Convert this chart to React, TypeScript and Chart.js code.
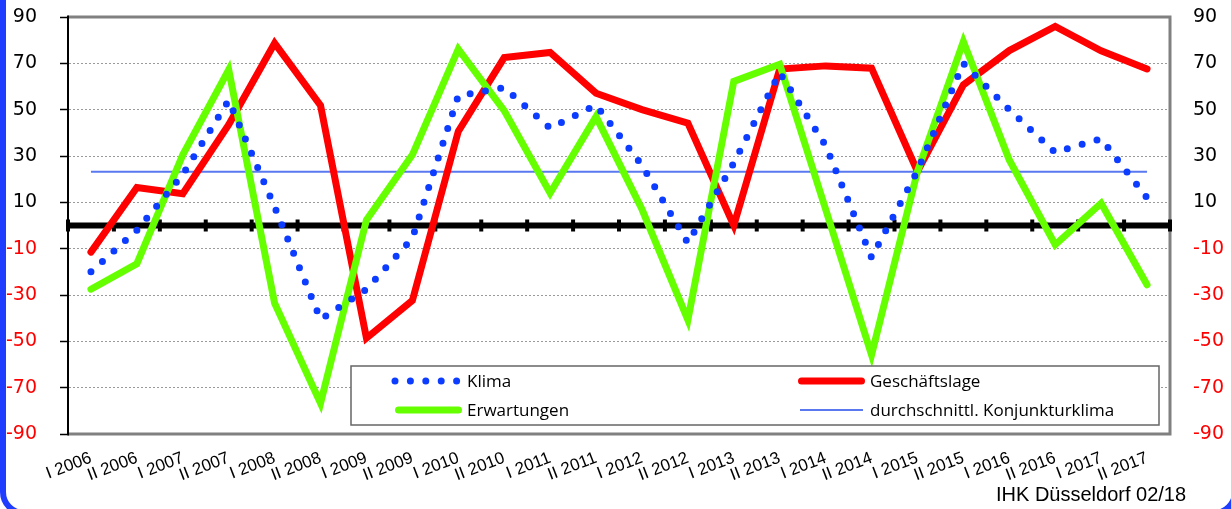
import React, { useEffect, useRef } from "react";
import { Chart, registerables } from "chart.js";

Chart.register(...registerables);

// ---------- data ----------
const categories = [
  "I 2006", "II 2006", "I 2007", "II 2007", "I 2008", "II 2008",
  "I 2009", "II 2009", "I 2010", "II 2010", "I 2011", "II 2011",
  "I 2012", "II 2012", "I 2013", "II 2013", "I 2014", "II 2014",
  "I 2015", "II 2015", "I 2016", "II 2016", "I 2017", "II 2017",
];

const klima = [
  -20, -2, 22, 54, 8, -40.5,
  -27.5, -5.5, 56, 59.5, 42, 52,
  26, -7.5, 27, 66, 34.5, -13.8,
  23.5, 70, 50, 31.5, 37.5, 12,
];

const geschaeftslage = [
  -11.5, 16.4, 13.7, 43.5, 78.7, 51.8,
  -48.6, -32.4, 40.6, 72.5, 74.7, 57.1,
  50, 44.2, 0, 67.5, 68.9, 67.9,
  23.3, 60.7, 75.5, 85.9, 75.4, 67.6,
];

const erwartungen = [
  -27.5, -16.5, 30.5, 67.2, -33.5, -76.7,
  2.4, 30.5, 76.1, 49.6, 14, 47,
  7, -40.7, 62.2, 69.6, 7, -55.8,
  23.3, 79.4, 28.3, -8.3, 9.6, -25.6,
];

const durchschnitt = [
  23.2, 23.2, 23.2, 23.2, 23.2, 23.2,
  23.2, 23.2, 23.2, 23.2, 23.2, 23.2,
  23.2, 23.2, 23.2, 23.2, 23.2, 23.2,
  23.2, 23.2, 23.2, 23.2, 23.2, 23.2,
];

const yTicks = [-90, -70, -50, -30, -10, 10, 30, 50, 70, 90];

const legendLabels = ["Klima", "Geschäftslage", "Erwartungen", "durchschnittl. Konjunkturklima"];
const footerText = "IHK Düsseldorf 02/18";

// ---------- styles ----------
const RED = "#ff0000";
const GREEN = "#66ff00";
const BLUE = "#0c3cff";
const AVG = "#5a78f0";

const tickColor = (ctx: any) => (ctx.tick && ctx.tick.value < 0 ? "#ff0000" : "#000000");
const setTicks = (scale: any) => {
  scale.ticks = yTicks.map((v) => ({ value: v }));
};

const framePlugin = {
  id: "frameZero",
  beforeDatasetsDraw(chart: any) {
    const { ctx, chartArea: ca, scales } = chart;
    const y0 = scales.y.getPixelForValue(0);
    ctx.save();
    ctx.strokeStyle = "#808080";
    ctx.lineWidth = 3;
    ctx.beginPath();
    ctx.moveTo(ca.left, ca.top);
    ctx.lineTo(ca.right, ca.top);
    ctx.lineTo(ca.right, ca.bottom);
    ctx.lineTo(ca.left, ca.bottom);
    ctx.stroke();
    ctx.strokeStyle = "#000";
    ctx.lineWidth = 2;
    ctx.beginPath();
    ctx.moveTo(ca.left, ca.top - 1.5);
    ctx.lineTo(ca.left, ca.bottom + 1.5);
    ctx.stroke();
    // zero line
    ctx.lineWidth = 6;
    ctx.beginPath();
    ctx.moveTo(ca.left, y0);
    ctx.lineTo(ca.right, y0);
    ctx.stroke();
    const n = categories.length;
    const w = (ca.right - ca.left) / n;
    ctx.fillStyle = "#000";
    for (let k = 0; k <= n; k++) {
      ctx.fillRect(ca.left + k * w - 2, y0 - 6, 4, 12);
    }
    ctx.restore();
  },
};

const legendPlugin = {
  id: "customLegend",
  afterDatasetsDraw(chart: any) {
    const { ctx } = chart;
    ctx.save();
    const bx = 351, by = 366, bw = 808, bh = 59;
    ctx.fillStyle = "#ffffff";
    ctx.fillRect(bx, by, bw, bh);
    ctx.strokeStyle = "#666";
    ctx.lineWidth = 1.5;
    ctx.strokeRect(bx, by, bw, bh);

    const r1 = 381, r2 = 410;
    ctx.fillStyle = BLUE;
    for (let k = 0; k < 5; k++) {
      ctx.beginPath();
      ctx.arc(395 + k * 15.4, r1, 3.5, 0, Math.PI * 2);
      ctx.fill();
    }
    ctx.lineCap = "round";
    ctx.strokeStyle = RED;
    ctx.lineWidth = 7;
    ctx.beginPath();
    ctx.moveTo(801.5, r1);
    ctx.lineTo(861.5, r1);
    ctx.stroke();
    ctx.strokeStyle = GREEN;
    ctx.beginPath();
    ctx.moveTo(398.5, r2);
    ctx.lineTo(458.5, r2);
    ctx.stroke();
    ctx.lineCap = "butt";
    ctx.strokeStyle = AVG;
    ctx.lineWidth = 2;
    ctx.beginPath();
    ctx.moveTo(800, r2);
    ctx.lineTo(863, r2);
    ctx.stroke();

    ctx.fillStyle = "#000";
    ctx.font = '17px "Open Sans", sans-serif';
    ctx.textBaseline = "alphabetic";
    ctx.textAlign = "left";
    ctx.fillText(legendLabels[0], 467, 387);
    ctx.fillText(legendLabels[1], 870, 387);
    ctx.fillText(legendLabels[2], 467, 416);
    ctx.fillText(legendLabels[3], 870, 416);

    ctx.font = '20px "Liberation Sans", Arial, sans-serif';
    ctx.fillText(footerText, 996, 501);
    ctx.restore();
  },
};

export default function App() {
  const canvasRef = useRef<HTMLCanvasElement | null>(null);

  useEffect(() => {
    const canvas = canvasRef.current;
    if (!canvas) return;
    const yFont = { family: '"DejaVu Sans", Verdana, sans-serif', size: 19 };
    const chart = new Chart(canvas, {
      type: "line",
      data: {
        labels: categories,
        datasets: [
          {
            label: legendLabels[0],
            data: klima,
            borderColor: BLUE,
            borderWidth: 7,
            borderDash: [0, 15.5],
            borderCapStyle: "round",
            borderJoinStyle: "round",
            pointRadius: 0,
            fill: false,
            tension: 0,
            yAxisID: "y",
          },
          {
            label: legendLabels[2],
            data: erwartungen,
            borderColor: GREEN,
            borderWidth: 7,
            borderCapStyle: "round",
            borderJoinStyle: "miter",
            pointRadius: 0,
            fill: false,
            tension: 0,
            yAxisID: "y",
          },
          {
            label: legendLabels[1],
            data: geschaeftslage,
            borderColor: RED,
            borderWidth: 7,
            borderCapStyle: "round",
            borderJoinStyle: "miter",
            pointRadius: 0,
            fill: false,
            tension: 0,
            yAxisID: "y",
          },
          {
            label: legendLabels[3],
            data: durchschnitt,
            borderColor: AVG,
            borderWidth: 2,
            pointRadius: 0,
            fill: false,
            tension: 0,
            yAxisID: "y",
          },
        ],
      },
      options: {
        animation: false,
        responsive: false,
        maintainAspectRatio: false,
        devicePixelRatio: 1,
        layout: { padding: { top: 17, left: 0, right: 0, bottom: 0 } },
        plugins: {
          legend: { display: false },
          tooltip: { enabled: false },
          title: { display: false },
        },
        scales: {
          x: {
            type: "category",
            offset: true,
            grid: { display: false, drawTicks: false },
            border: { display: false },
            ticks: {
              autoSkip: false,
              maxRotation: 21,
              minRotation: 21,
              padding: 14,
              color: "#000",
              font: { family: '"Liberation Sans", Arial, sans-serif', size: 17 },
            },
            afterFit: (s: any) => {
              s.height = 75;
              s.paddingLeft = 0;
              s.paddingRight = 0;
            },
          },
          y: {
            position: "left",
            min: -90,
            max: 90,
            afterBuildTicks: setTicks,
            grid: {
              color: "#9a9a9a",
              lineWidth: 1,
              tickColor: "#000",
              tickLength: 8,
              tickWidth: 1.5,
            },
            border: { display: true, color: "#000", width: 2, dash: [2, 2] },
            ticks: { padding: 23, color: tickColor, font: yFont },
            afterFit: (s: any) => {
              s.width = 68;
              s.paddingTop = 0;
              s.paddingBottom = 0;
            },
          },
          y2: {
            position: "right",
            min: -90,
            max: 90,
            afterBuildTicks: setTicks,
            grid: { drawOnChartArea: false, drawTicks: false },
            border: { display: false },
            ticks: { padding: 23, color: tickColor, font: yFont },
            afterFit: (s: any) => {
              s.width = 61;
              s.paddingTop = 0;
              s.paddingBottom = 0;
            },
          },
        },
      } as any,
      plugins: [framePlugin, legendPlugin],
    });
    return () => chart.destroy();
  }, []);

  return (
    <div
      style={{
        position: "absolute",
        left: 0,
        top: 0,
        width: 1231,
        height: 509,
        overflow: "hidden",
        background: "#fff",
      }}
    >
      <canvas ref={canvasRef} width={1231} height={509} style={{ position: "absolute", left: 0, top: 0 }} />
      <div
        style={{
          position: "absolute",
          left: 0,
          top: -40,
          width: 1238,
          height: 556,
          boxSizing: "border-box",
          border: "6px solid #1f3dff",
          borderRadius: 24,
          pointerEvents: "none",
        }}
      />
    </div>
  );
}
